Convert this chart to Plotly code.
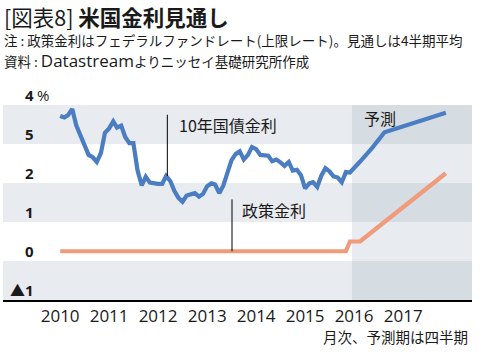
import pandas as pd
import plotly.graph_objects as go

# ---- data ----
monthly_start = "2010-01-01"
gs10_monthly = [
    3.72, 3.68, 3.74, 3.90, 3.48, 3.22, 3.00, 2.72, 2.66, 2.54, 2.77, 3.29,
    3.40, 3.58, 3.42, 3.47, 3.18, 3.02, 3.02, 2.32, 1.94, 2.16, 2.01, 1.99,
    1.98, 1.98, 2.18, 2.05, 1.80, 1.62, 1.52, 1.68, 1.72, 1.74, 1.65, 1.72,
    1.92, 1.99, 1.96, 1.74, 1.93, 2.30, 2.58, 2.74, 2.81, 2.60, 2.72, 2.92,
    2.87, 2.72, 2.72, 2.70, 2.56, 2.60, 2.53, 2.44, 2.54, 2.32, 2.34, 2.20,
    1.86, 1.99, 2.02, 1.90, 2.18, 2.38, 2.30, 2.17, 2.14, 2.02, 2.28, 2.27]
ffr_monthly = [0.25] * 71 + [0.50]
forecast_dates = ["2016-02-15", "2016-05-15", "2016-08-15", "2016-11-15",
                  "2017-02-15", "2017-05-15", "2017-08-15", "2017-11-15"]
gs10_forecast = [2.55, 2.90, 3.30, 3.40, 3.50, 3.60, 3.70, 3.80]
ffr_forecast = [0.50, 0.75, 1.00, 1.25, 1.50, 1.75, 2.00, 2.25]

year_ticks = ["2010-01-01", "2011-01-01", "2012-01-01", "2013-01-01",
              "2014-01-01", "2015-01-01", "2016-01-01", "2017-01-01"]
year_labels = ["2010", "2011", "2012", "2013", "2014", "2015", "2016", "2017"]
y_ticks = [-1, 0, 1, 2, 3, 4]
y_labels = ["▲1", "0", "1", "2", "5", "4"]

forecast_start = "2015-12-16"
x_range = ["2008-11-01", "2018-05-29"]

# ---- figure ----
W, H = 482, 359
L, R, T, B = 3, 10, 105, 59
PW, PH = W - L - R, H - T - B

def px(x):
    return (x - L) / PW

def py(y):
    return (H - B - y) / PH

monthly_dates = list(pd.date_range(monthly_start, periods=len(gs10_monthly), freq="MS").strftime("%Y-%m-%d"))
x_all = monthly_dates + forecast_dates
gs10_all = gs10_monthly + gs10_forecast
ffr_all = ffr_monthly + ffr_forecast

BLUE = "#4a7dc1"
ORANGE = "#f09b7b"
BAND = "#e8ebef"
BAND_FC_DARK = "#d5dce2"
BAND_FC_LIGHT = "#e8ecf0"
TXT = "#1a1a1a"
CJK = "Noto Sans CJK JP"
LAT = "Open Sans, Noto Sans CJK JP"

fig = go.Figure()
fig.add_trace(go.Scatter(x=x_all, y=ffr_all, mode="lines",
                         line=dict(color=ORANGE, width=4.2), hoverinfo="skip"))
fig.add_trace(go.Scatter(x=x_all, y=gs10_all, mode="lines",
                         line=dict(color=BLUE, width=4.2), hoverinfo="skip"))

shapes = []
for i in range(len(y_ticks) - 1):
    y0, y1 = y_ticks[i], y_ticks[i + 1]
    dark = (i % 2 == 0)
    if dark:
        shapes.append(dict(type="rect", xref="x", yref="y", x0=x_range[0], x1=forecast_start,
                           y0=y0, y1=y1, fillcolor=BAND, line=dict(width=0), layer="below"))
    shapes.append(dict(type="rect", xref="x", yref="y", x0=forecast_start, x1=x_range[1],
                       y0=y0, y1=y1, fillcolor=BAND_FC_DARK if dark else BAND_FC_LIGHT,
                       line=dict(width=0), layer="below"))
shapes.append(dict(type="line", xref="x", yref="y", x0="2012-03-10", x1="2012-03-10",
                   y0=3.75, y1=2.18, line=dict(color="black", width=1)))
shapes.append(dict(type="line", xref="x", yref="y", x0="2013-07-05", x1="2013-07-05",
                   y0=1.58, y1=0.25, line=dict(color="black", width=1)))

ann = []
for v, t in zip(y_ticks, y_labels):
    ann.append(dict(xref="paper", yref="y", x=px(36), y=v, xanchor="right", yanchor="middle",
                    yshift=10, text=t, showarrow=False,
                    font=dict(family=LAT, size=15, color=TXT, weight="bold")))
ann.append(dict(xref="paper", yref="y", x=px(35), y=y_ticks[-1], xanchor="left", yanchor="middle",
                yshift=10, text="%", showarrow=False, font=dict(family=LAT, size=15, color=TXT)))

ann.append(dict(xref="x", yref="y", x="2012-05-20", y=3.49, xanchor="left", yanchor="middle",
                text="10年国債金利", showarrow=False, font=dict(family=CJK, size=16, color=TXT)))
ann.append(dict(xref="x", yref="y", x="2013-09-03", y=1.32, xanchor="left", yanchor="middle",
                text="政策金利", showarrow=False, font=dict(family=CJK, size=16, color=TXT)))
ann.append(dict(xref="x", yref="y", x="2016-03-01", y=3.67, xanchor="left", yanchor="middle",
                text="予測", showarrow=False, font=dict(family=CJK, size=16, color=TXT)))

ann.append(dict(xref="paper", yref="paper", x=px(2), y=py(16), xanchor="left", yanchor="middle",
                text="[図表8] <b>米国金利見通し</b>", showarrow=False,
                font=dict(family=CJK, size=21.5, color=TXT)))
ann.append(dict(xref="paper", yref="paper", x=px(2), y=py(40), xanchor="left", yanchor="middle",
                text="注 : 政策金利はフェデラルファンドレート(上限レート)。見通しは4半期平均", showarrow=False,
                font=dict(family=CJK, size=13.5, color=TXT)))
ann.append(dict(xref="paper", yref="paper", x=px(2), y=py(61), xanchor="left", yanchor="middle",
                text="資料 : <span style='font-size:17px;font-family:Open Sans'>Datastream</span>よりニッセイ基礎研究所作成",
                showarrow=False, font=dict(family=CJK, size=13.5, color=TXT)))
ann.append(dict(xref="paper", yref="paper", x=px(470), y=py(336), xanchor="right", yanchor="middle",
                text="月次、予測期は四半期", showarrow=False,
                font=dict(family=CJK, size=14.5, color=TXT)))

fig.update_layout(
    width=W, height=H,
    margin=dict(l=L, r=R, t=T, b=B, pad=0),
    paper_bgcolor="white", plot_bgcolor="white",
    showlegend=False,
    shapes=shapes, annotations=ann,
    xaxis=dict(type="date", range=x_range, tickvals=year_ticks, ticktext=year_labels,
               ticks="", showgrid=False, zeroline=False, showline=True,
               linecolor="black", linewidth=1.5,
               tickfont=dict(family=LAT, size=17, color=TXT), fixedrange=True),
    yaxis=dict(range=[-1, 4], showticklabels=False, ticks="", showgrid=False,
               zeroline=False, showline=False, fixedrange=True),
)

fig.write_html("out.html", config={"displayModeBar": False},
               post_script="document.body.style.margin='0';document.body.style.overflow='hidden';")
